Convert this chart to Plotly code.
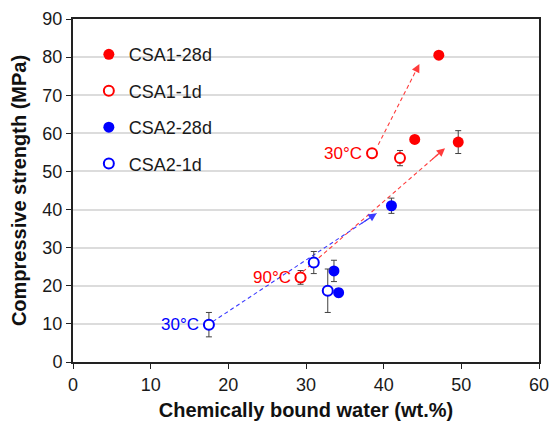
import plotly.graph_objects as go

# Chemically bound water (wt.%) vs compressive strength (MPa)
csa1_28d_x = [47.1, 44.0, 49.6]
csa1_28d_y = [80.5, 58.4, 57.7]
csa1_28d_err = [0.0, 0.0, 3.0]

csa1_1d_x = [38.5, 42.1, 29.3]
csa1_1d_y = [54.8, 53.5, 22.2]
csa1_1d_err = [0.0, 2.0, 1.8]

csa2_28d_x = [41.0, 33.6, 34.2]
csa2_28d_y = [41.0, 23.9, 18.2]
csa2_28d_err = [2.0, 2.8, 1.1]

csa2_1d_x = [17.5, 31.0, 32.8]
csa2_1d_y = [9.8, 26.1, 18.7]
csa2_1d_err = [3.2, 2.9, 5.7]

# Dashed trend arrows: start, end, colour
arrow_start_x = [39.3, 29.6, 18.0]
arrow_start_y = [57.0, 23.7, 10.6]
arrow_end_x = [44.6, 47.9, 39.1]
arrow_end_y = [78.2, 56.1, 39.0]
arrow_colors = ["#ff3b3b", "#ff3b3b", "#3b3bff"]

# Temperature labels
temp_labels = ["30°C", "90°C", "30°C"]
temp_label_x = [37.5, 28.3, 16.5]
temp_label_y = [54.8, 22.2, 9.8]
temp_label_colors = ["#ff0000", "#ff0000", "#0000ff"]

RED = "#ff0000"
BLUE = "#0000ff"
FONT = "Arial, Liberation Sans, sans-serif"
TXT = "#1a1a1a"

fig = go.Figure()

# dashed lines for arrows
for x0, y0, x1, y1, c in zip(arrow_start_x, arrow_start_y, arrow_end_x, arrow_end_y, arrow_colors):
    fig.add_trace(go.Scatter(
        x=[x0, x1], y=[y0, y1], mode="lines",
        line=dict(color=c, width=1.1, dash="4px,3px"),
        showlegend=False, hoverinfo="skip",
    ))
    # arrow head at the end of each dashed line
    fig.add_annotation(
        x=x1, y=y1, ax=x1 - (x1 - x0) * 0.1, ay=y1 - (y1 - y0) * 0.1,
        xref="x", yref="y", axref="x", ayref="y",
        showarrow=True, arrowhead=2, arrowsize=1.5, arrowwidth=1.1,
        arrowcolor=c, text="",
    )

err_style = dict(type="data", visible=True, color="#404040", thickness=1, width=3)

def add_series(name, xs, ys, errs, color, filled, group):
    fig.add_trace(go.Scatter(
        x=xs, y=ys, mode="markers", name=name, legendgroup=group,
        error_y=dict(array=errs, **err_style),
        marker=dict(
            symbol="circle", size=11 if filled else 10,
            color=color if filled else "white",
            line=dict(color=color, width=0 if filled else 2),
        ),
    ))

add_series("CSA1-28d", csa1_28d_x, csa1_28d_y, csa1_28d_err, RED, True, "a")
add_series("CSA1-1d", csa1_1d_x, csa1_1d_y, csa1_1d_err, RED, False, "b")
add_series("CSA2-28d", csa2_28d_x, csa2_28d_y, csa2_28d_err, BLUE, True, "c")
add_series("CSA2-1d", csa2_1d_x, csa2_1d_y, csa2_1d_err, BLUE, False, "d")

for t, x, y, c in zip(temp_labels, temp_label_x, temp_label_y, temp_label_colors):
    fig.add_annotation(
        x=x, y=y, xref="x", yref="y", text=t, showarrow=False,
        xanchor="right", yanchor="middle",
        font=dict(family=FONT, size=17, color=c),
    )

fig.update_layout(
    width=550, height=421,
    margin=dict(l=73, r=11, t=19, b=59),
    paper_bgcolor="white", plot_bgcolor="white",
    font=dict(family=FONT, size=18, color=TXT),
    showlegend=True,
    legend=dict(
        x=0.034, y=0.95, xanchor="left", yanchor="top",
        bgcolor="rgba(0,0,0,0)", font=dict(family=FONT, size=18, color=TXT),
        tracegroupgap=10, traceorder="grouped", itemwidth=30,
    ),
    xaxis=dict(
        range=[0, 60], dtick=10, showgrid=False, zeroline=False, automargin=False,
        showline=True, linecolor="#222222", linewidth=2, mirror=True,
        ticks="outside", ticklen=5, tickcolor="#222222",
        tickfont=dict(size=18, color=TXT),
        title=dict(text="<b>Chemically bound water (wt.%)</b>",
                   font=dict(size=20, color="#111111"), standoff=14),
    ),
    yaxis=dict(
        range=[0, 90], dtick=10, showgrid=True, gridcolor="#dcdcdc", gridwidth=1.5,
        zeroline=False, automargin=False,
        showline=True, linecolor="#222222", linewidth=2, mirror=True,
        ticks="outside", ticklen=5, tickcolor="#222222",
        tickfont=dict(size=18, color=TXT),
        title=dict(text="<b>Compressive strength (MPa)</b>",
                   font=dict(size=20, color="#111111"), standoff=10),
    ),
)

fig.write_html("out.html")
